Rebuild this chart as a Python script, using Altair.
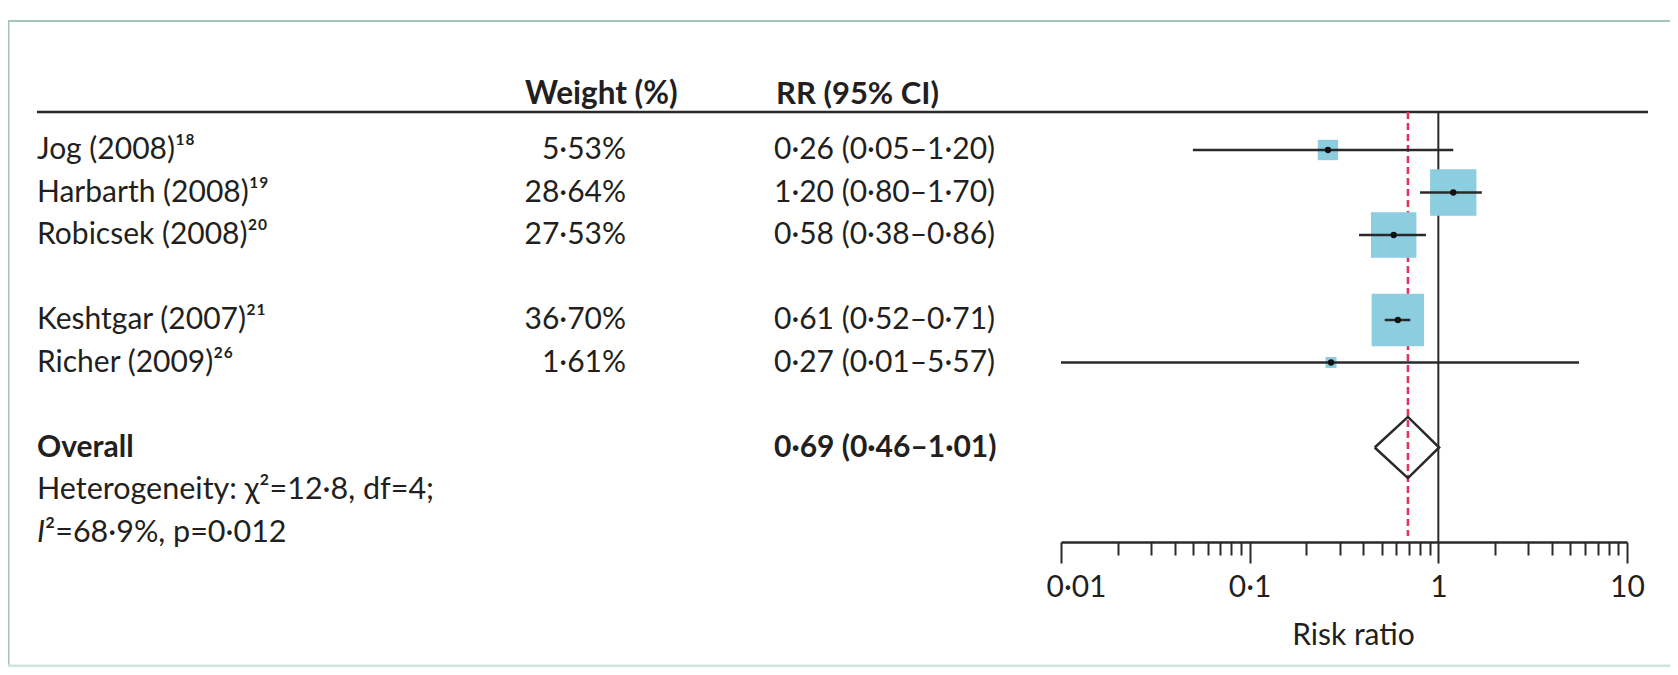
import altair as alt
import pandas as pd

# ---------------- data ----------------
studies = ["Jog (2008)¹⁸", "Harbarth (2008)¹⁹", "Robicsek (2008)²⁰",
           "Keshtgar (2007)²¹", "Richer (2009)²⁶"]
rows = [0, 1, 2, 4, 5]
weights = [5.53, 28.64, 27.53, 36.70, 1.61]
rr = [0.26, 1.20, 0.58, 0.61, 0.27]
lo = [0.05, 0.80, 0.38, 0.52, 0.01]
hi = [1.20, 1.70, 0.86, 0.71, 5.57]

overall_label = "Overall"
overall_row = 7
overall_rr, overall_lo, overall_hi = 0.69, 0.46, 1.01

het_line1 = "Heterogeneity: χ²=12·8, df=4;"
het_line2_italic = "I"
het_line2_rest = "²=68·9%, p=0·012"
het_rows = [8, 9]

header_labels = ["Weight (%)", "RR (95% CI)"]
header_row = -1.3
null_value = 1

tick_values = [0.01, 0.02, 0.03, 0.04, 0.05, 0.06, 0.07, 0.08, 0.09,
               0.1, 0.2, 0.3, 0.4, 0.5, 0.6, 0.7, 0.8, 0.9,
               1, 2, 3, 4, 5, 6, 7, 8, 9, 10]
major_ticks = [0.01, 0.1, 1, 10]
x_title = "Risk ratio"


def dot(v):
    return f"{v:.2f}".replace(".", "·")


# ---------------- style ----------------
FONT = "Lato"
FS = 30
TXT = "#231f20"
LINE = "#2a2a2a"
BOX = "#8ccde0"
RED = "#e5305e"
FRAME = "#a3c6ba"

W, H = 1662, 534
XS = alt.Scale(type="log", domain=[0.01, 10], range=[1053, 1619])
YS = alt.Scale(domain=[0, 9], range=[142, 524.5])

major_js = "[" + ",".join(str(m) for m in major_ticks) + "]"
X_AXIS = alt.Axis(
    values=tick_values,
    labelExpr=f"indexof({major_js}, datum.value) >= 0 ? replace(format(datum.value, '~g'), '.', '·') : ''",
    tickSize={"condition": {"test": f"indexof({major_js}, datum.value) >= 0", "value": 21}, "value": 13},
    labelOffset={"condition": {"test": f"datum.value == {major_ticks[0]}", "value": 15}, "value": 0},
    tickWidth=2, tickColor=LINE, domainColor=LINE, domainWidth=2.5,
    labelFont=FONT, labelFontSize=FS, labelColor=TXT, labelPadding=9,
    labelOverlap=False, labelFlush=False,
    title=x_title, titleFont=FONT, titleFontSize=FS, titleFontWeight="normal",
    titleColor=TXT, titlePadding=18, titleX=1345, grid=False,
)

studies_df = pd.DataFrame({"study": studies, "row": rows, "weight": weights,
                           "rr": rr, "lo": lo, "hi": hi})
studies_df["wlabel"] = [dot(w) + "%" for w in weights]
studies_df["rrlabel"] = [f"{dot(a)} ({dot(b)}–{dot(c)})" for a, b, c in zip(rr, lo, hi)]

one = pd.DataFrame({"k": [0]})

# ---------------- decorative frame & lines ----------------
frame_top = alt.Chart(one).mark_rule(color=FRAME, strokeWidth=2).encode(
    x=alt.value(0), x2=alt.value(W), y=alt.value(13))
frame_left = alt.Chart(one).mark_rule(color=FRAME, strokeWidth=2).encode(
    x=alt.value(0.5), y=alt.value(13), y2=alt.value(659))
frame_bottom = alt.Chart(one).mark_rule(color="#cde5de", strokeWidth=3).encode(
    x=alt.value(0), x2=alt.value(W), y=alt.value(658))
header_line = alt.Chart(one).mark_rule(color=LINE, strokeWidth=2.5).encode(
    x=alt.value(29), x2=alt.value(1640), y=alt.value(104))

null_line = alt.Chart(pd.DataFrame({"x": [null_value]})).mark_rule(
    color=LINE, strokeWidth=2).encode(
    x=alt.X("x:Q", scale=XS, axis=X_AXIS), y=alt.value(104), y2=alt.value(H))

red_line = alt.Chart(pd.DataFrame({"x": [overall_rr]})).mark_rule(
    color=RED, strokeWidth=2.5, strokeDash=[7, 4]).encode(
    x=alt.X("x:Q", scale=XS, axis=X_AXIS), y=alt.value(104), y2=alt.value(528))

# ---------------- forest marks ----------------
boxes = alt.Chart(studies_df).mark_square(color=BOX, opacity=1).encode(
    x=alt.X("rr:Q", scale=XS, axis=X_AXIS),
    y=alt.Y("row:Q", scale=YS, axis=None),
    size=alt.Size("weight:Q", scale=alt.Scale(domain=[0, 100], range=[0, 7500]), legend=None),
)
ci = alt.Chart(studies_df).mark_rule(color=LINE, strokeWidth=2.5).encode(
    x=alt.X("lo:Q", scale=XS, axis=X_AXIS), x2="hi:Q",
    y=alt.Y("row:Q", scale=YS, axis=None))
dots = alt.Chart(studies_df).mark_point(filled=True, shape="circle", size=40,
                                        color="#111111", opacity=1).encode(
    x=alt.X("rr:Q", scale=XS, axis=X_AXIS),
    y=alt.Y("row:Q", scale=YS, axis=None))

h = 0.72
diamond_df = pd.DataFrame({
    "x": [overall_lo, overall_rr, overall_hi, overall_rr, overall_lo],
    "row": [overall_row, overall_row - h, overall_row, overall_row + h, overall_row],
    "o": [0, 1, 2, 3, 4],
})
diamond = alt.Chart(diamond_df).mark_line(color=LINE, strokeWidth=2.5,
                                          strokeJoin="miter").encode(
    x=alt.X("x:Q", scale=XS, axis=X_AXIS),
    y=alt.Y("row:Q", scale=YS, axis=None),
    order="o:Q")

# ---------------- texts ----------------
def txt(df, field, x, align="left", weight="normal", style="normal", size=FS):
    return alt.Chart(df).mark_text(align=align, baseline="middle", font=FONT,
                                   fontSize=size, color=TXT, fontWeight=weight,
                                   fontStyle=style).encode(
        x=alt.value(x), y=alt.Y("row:Q", scale=YS, axis=None), text=f"{field}:N")

names = txt(studies_df, "study", 29)
wts = txt(studies_df, "wlabel", 618, align="right")
rrs = txt(studies_df, "rrlabel", 766)

ov_df = pd.DataFrame({"row": [overall_row], "name": [overall_label],
                      "rrlabel": [f"{dot(overall_rr)} ({dot(overall_lo)}–{dot(overall_hi)})"]})
ov_name = txt(ov_df, "name", 29, weight="bold")
ov_rr = txt(ov_df, "rrlabel", 766, weight="bold")

het1 = txt(pd.DataFrame({"row": [het_rows[0]], "t": [het_line1]}), "t", 29, size=30.5)
het2a = txt(pd.DataFrame({"row": [het_rows[1]], "t": [het_line2_italic]}), "t", 29, style="italic", size=30.5)
het2b = txt(pd.DataFrame({"row": [het_rows[1]], "t": [het_line2_rest]}), "t", 37, size=30.5)

hdr_w = txt(pd.DataFrame({"row": [header_row], "t": [header_labels[0]]}), "t", 517, weight="bold", size=31.5)
hdr_r = txt(pd.DataFrame({"row": [header_row], "t": [header_labels[1]]}), "t", 768, weight="bold", size=31)

chart = alt.layer(
    frame_top, frame_left, frame_bottom, header_line,
    null_line, red_line, boxes, ci, dots, diamond,
    names, wts, rrs, ov_name, ov_rr, het1, het2a, het2b, hdr_w, hdr_r,
).properties(
    width=W, height=H,
    padding={"left": 0, "top": 0, "right": 0, "bottom": 125},
    autosize=alt.AutoSizeParams(type="none"),
    background="white",
).configure_view(stroke=None)

chart.save("out.html", embed_options={"renderer": "svg", "actions": False})
